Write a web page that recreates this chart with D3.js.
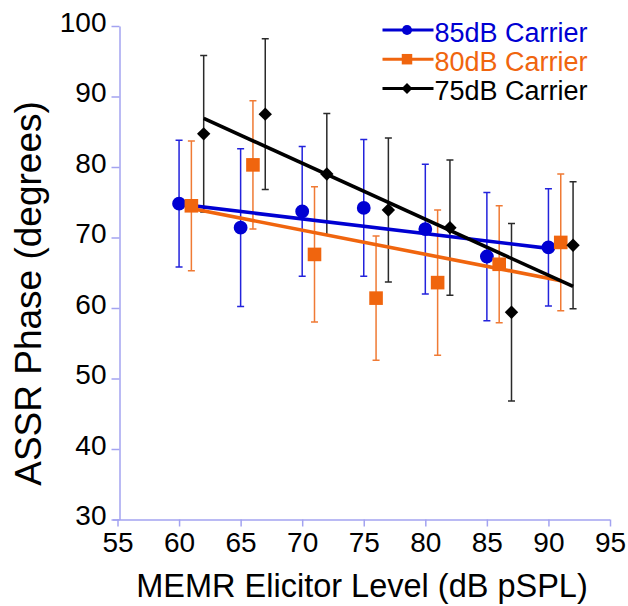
<!DOCTYPE html>
<html>
<head>
<meta charset="utf-8">
<script src="https://cdn.jsdelivr.net/npm/d3@7"></script>
<style>
  html, body { margin: 0; padding: 0; background: #fff; }
  svg { display: block; font-family: "Liberation Sans", Arial, sans-serif; }
</style>
</head>
<body>
<svg id="chart" width="628" height="606"></svg>
<script>
// MEMR elicitor level (dB pSPL) per carrier condition
const levels85 = [60, 65, 70, 75, 80, 85, 90];
const levels80 = [61, 66, 71, 76, 81, 86, 91];
const levels75 = [62, 67, 72, 77, 82, 87, 92];

// Mean ASSR phase (degrees)
const phase85 = [74.8, 71.4, 73.7, 74.2, 71.2, 67.3, 68.6];
const phase80 = [74.5, 80.3, 67.6, 61.4, 63.6, 66.2, 69.3];
const phase75 = [84.7, 87.5, 79.0, 73.9, 71.4, 59.4, 68.9];

// Error bar half-lengths (degrees)
const err85 = [9.0, 11.2, 9.2, 9.7, 9.2, 9.1, 8.3];
const err80 = [9.2, 9.1, 9.6, 8.8, 10.3, 8.3, 9.7];
const err75 = [11.1, 10.7, 8.6, 10.2, 9.6, 12.6, 9.0];

const seriesNames = ["85dB Carrier", "80dB Carrier", "75dB Carrier"];
const xTicks = [55, 60, 65, 70, 75, 80, 85, 90, 95];
const yTicks = [30, 40, 50, 60, 70, 80, 90, 100];

// A square turned 45 degrees (equal width and height)
const symbolRhomb = {
  draw(ctx, size) {
    const r = Math.sqrt(size / 2);
    ctx.moveTo(0, -r); ctx.lineTo(r, 0); ctx.lineTo(0, r); ctx.lineTo(-r, 0); ctx.closePath();
  }
};

const styles = [
  { color: "#0000d2", bar: "#2323dc", shape: d3.symbolCircle, size: 150, legendSize: 80 },
  { color: "#f0650e", bar: "#f07a34", shape: d3.symbolSquare, size: 185, legendSize: 110 },
  { color: "#000000", bar: "#2a2a2a", shape: symbolRhomb, size: 90, legendSize: 60 }
];

const series = [
  { name: seriesNames[0], x: levels85, y: phase85, e: err85 },
  { name: seriesNames[1], x: levels80, y: phase80, e: err80 },
  { name: seriesNames[2], x: levels75, y: phase75, e: err75 }
].map((s, i) => Object.assign(s, styles[i], {
  pts: s.x.map((x, j) => ({ x, y: s.y[j], e: s.e[j] }))
}));

const svg = d3.select("#chart");
const x = d3.scaleLinear().domain([55, 95]).range([117.5, 610]);
const y = d3.scaleLinear().domain([30, 100]).range([519.5, 26]);
const axisColor = "#a3a3f0";

// Axes
const gx = svg.append("g")
  .attr("transform", "translate(0,519.5)")
  .call(d3.axisBottom(x).tickValues(xTicks).tickSize(7).tickSizeOuter(0).tickPadding(6));
gx.select(".domain").attr("d", `M${113},0.5H${x(95)}`);

const gy = svg.append("g")
  .attr("transform", "translate(119.5,0)")
  .call(d3.axisLeft(y).tickValues(yTicks).tickSize(8).tickSizeOuter(0).tickPadding(5));

[gx, gy].forEach(g => {
  g.selectAll(".domain").attr("stroke", axisColor).attr("stroke-width", 1.5);
  g.selectAll(".tick line").attr("stroke", axisColor).attr("stroke-width", 1.5);
  g.selectAll(".tick text")
    .attr("fill", "#000")
    .style("font-size", "28px")
    .style("font-family", "'Liberation Sans', Arial, sans-serif");
});
gy.selectAll(".tick text").attr("dy", "0.18em");

// Axis titles
svg.append("text")
  .attr("x", 362).attr("y", 597)
  .attr("text-anchor", "middle")
  .style("font-size", "32.5px")
  .text("MEMR Elicitor Level (dB pSPL)");

svg.append("text")
  .attr("transform", "translate(41,293.5) rotate(-90)")
  .attr("text-anchor", "middle")
  .style("font-size", "37px")
  .text("ASSR Phase (degrees)");

// Error bars
const cap = 3.5;
series.forEach(s => {
  const g = svg.append("g").attr("stroke", s.bar).attr("stroke-width", 1.5).attr("fill", "none");
  g.selectAll("path").data(s.pts).join("path")
    .attr("d", d => {
      const cx = x(d.x), t = y(d.y + d.e), b = y(d.y - d.e);
      return `M${cx},${t}V${b}M${cx - cap},${t}H${cx + cap}M${cx - cap},${b}H${cx + cap}`;
    });
});

// Least-squares trend line over each series' level range
function fit(pts) {
  const mx = d3.mean(pts, d => d.x), my = d3.mean(pts, d => d.y);
  const slope = d3.sum(pts, d => (d.x - mx) * (d.y - my)) / d3.sum(pts, d => (d.x - mx) ** 2);
  const ext = d3.extent(pts, d => d.x);
  return ext.map(v => ({ x: v, y: my + slope * (v - mx) }));
}
const line = d3.line().x(d => x(d.x)).y(d => y(d.y));
series.forEach(s => {
  svg.append("path")
    .datum(fit(s.pts))
    .attr("d", line)
    .attr("fill", "none")
    .attr("stroke", s.color)
    .attr("stroke-width", 3.6);
});

// Markers
series.forEach(s => {
  svg.append("g").selectAll("path").data(s.pts).join("path")
    .attr("transform", d => `translate(${x(d.x)},${y(d.y)})`)
    .attr("d", d3.symbol().type(s.shape).size(s.size))
    .attr("fill", s.color);
});

// Legend
const legend = svg.append("g");
series.forEach((s, i) => {
  const ly = 30 + i * 29.2;
  legend.append("line")
    .attr("x1", 382.5).attr("x2", 433.5)
    .attr("y1", ly).attr("y2", ly)
    .attr("stroke", s.color).attr("stroke-width", 3);
  legend.append("path")
    .attr("transform", `translate(407,${ly})`)
    .attr("d", d3.symbol().type(s.shape).size(s.legendSize))
    .attr("fill", s.color);
  legend.append("text")
    .attr("x", 434.5).attr("y", ly + 11.5)
    .attr("fill", s.color)
    .style("font-size", "27px")
    .text(s.name);
});
</script>
</body>
</html>
